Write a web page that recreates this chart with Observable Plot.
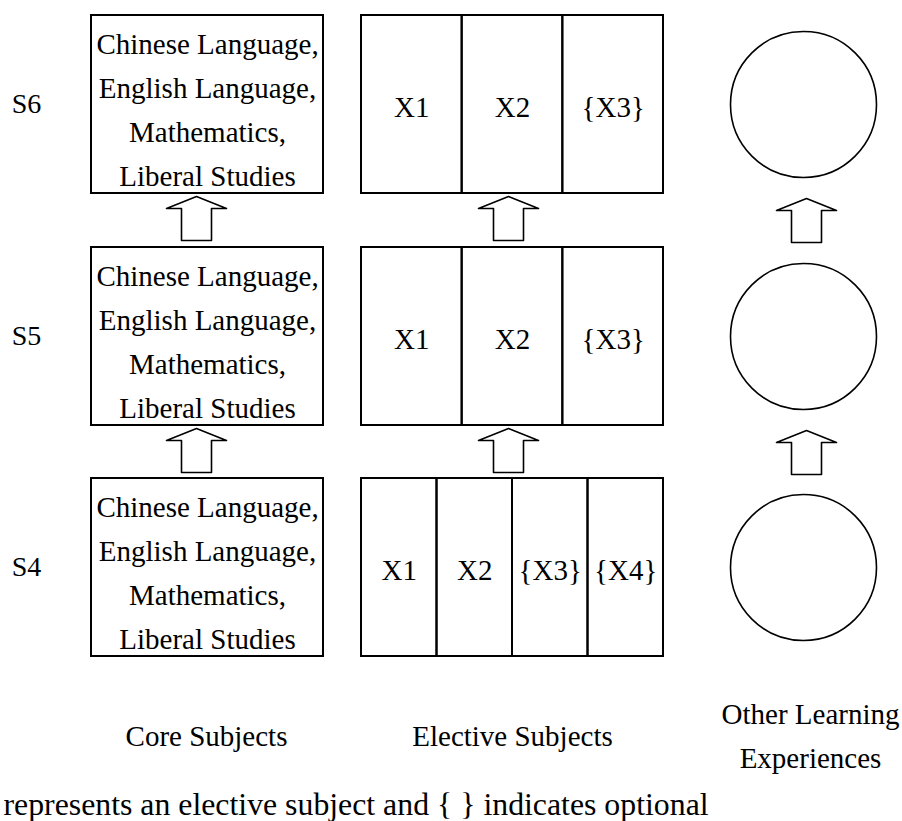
<!DOCTYPE html>
<html>
<head>
<meta charset="utf-8">
<script src="https://cdn.jsdelivr.net/npm/d3@7"></script>
<script src="https://cdn.jsdelivr.net/npm/@observablehq/plot@0.6"></script>
<style>
  html, body { margin: 0; padding: 0; background: #fff; }
  #chart svg { display: block; }
</style>
</head>
<body>
<div id="chart"></div>
<script>
// ---- Data ----
const grades = ["S6", "S5", "S4"];
const coreSubjects = ["Chinese Language,", "English Language,", "Mathematics,", "Liberal Studies"];
const electivesS6 = ["X1", "X2", "{X3}"];
const electivesS5 = ["X1", "X2", "{X3}"];
const electivesS4 = ["X1", "X2", "{X3}", "{X4}"];
const columnLabels = ["Core Subjects", "Elective Subjects", "Other Learning\nExperiences"];
const footnote = "represents an elective subject and { } indicates optional";

// ---- Layout ----
const W = 902, H = 821;
const rowTop = [15, 247, 478];
const rowH = 178;
const core = {x1: 91, x2: 323, arrowX: 196};
const elec = {x1: 361, x2: 663, arrowX: 508};
const ole = {cx: 803, r: 73, arrowX: 806};
const labelX = 26;
const colLabelY = 731;
const font = "Liberation Serif";

const electives = [electivesS6, electivesS5, electivesS4];

const coreBoxes = grades.map((g, i) => ({g, x1: core.x1, x2: core.x2, y1: rowTop[i], y2: rowTop[i] + rowH}));
const coreTexts = grades.map((g, i) => ({x: (core.x1 + core.x2) / 2, y: rowTop[i] + rowH / 2 + 1, text: coreSubjects.join("\n")}));

const elecCells = [];
const elecTexts = [];
electives.forEach((list, i) => {
  const w = (elec.x2 - elec.x1) / list.length;
  list.forEach((name, j) => {
    elecCells.push({x1: elec.x1 + j * w, x2: elec.x1 + (j + 1) * w, y1: rowTop[i], y2: rowTop[i] + rowH});
    elecTexts.push({x: elec.x1 + (j + 0.5) * w, y: rowTop[i] + rowH / 2 + 3, text: name});
  });
});

const circles = grades.map((g, i) => ({x: ole.cx, y: rowTop[i] + rowH / 2}));

// arrows between consecutive rows (pointing up)
const arrowPts = [];
[core.arrowX, elec.arrowX, ole.arrowX].forEach((cx, c) => {
  for (let i = 0; i < grades.length - 1; i++) {
    const t = rowTop[i] + rowH + 3 + (c === 2 ? 2 : 0);
    const id = c + "-" + i;
    const pts = [[cx, t], [cx + 30, t + 12], [cx + 15, t + 12], [cx + 15, t + 44],
                 [cx - 15, t + 44], [cx - 15, t + 12], [cx - 30, t + 12], [cx, t]];
    pts.forEach(([x, y]) => arrowPts.push({id, x, y}));
  }
});

const gradeLabels = grades.map((g, i) => ({x: labelX, y: rowTop[i] + rowH / 2, text: g}));
const colLabelData = columnLabels.map((t, i) => ({x: [(core.x1 + core.x2) / 2 - 1, (elec.x1 + elec.x2) / 2, ole.cx + 7][i], y: colLabelY, text: t}));

const chart = Plot.plot({
  width: W,
  height: H,
  margin: 0,
  x: {type: "linear", domain: [0, W], range: [0, W], axis: null},
  y: {type: "linear", domain: [0, H], range: [0, H], axis: null},
  marks: [
    Plot.rect(coreBoxes, {x1: "x1", x2: "x2", y1: "y1", y2: "y2", fill: "none", stroke: "#000", strokeWidth: 2}),
    Plot.text(coreTexts, {x: "x", y: "y", text: "text", fontSize: 29, lineHeight: 1.52, fill: "#000", fontFamily: font}),
    Plot.rect(elecCells, {x1: "x1", x2: "x2", y1: "y1", y2: "y2", fill: "none", stroke: "#000", strokeWidth: 2}),
    Plot.text(elecTexts, {x: "x", y: "y", text: "text", fontSize: 29, fill: "#000", fontFamily: font}),
    Plot.dot(circles, {x: "x", y: "y", r: ole.r, fill: "none", stroke: "#000", strokeWidth: 1.6}),
    Plot.line(arrowPts, {x: "x", y: "y", z: "id", stroke: "#000", strokeWidth: 1.6, curve: "linear"}),
    Plot.text(gradeLabels, {x: "x", y: "y", text: "text", fontSize: 28, fill: "#000", fontFamily: font}),
    Plot.text(colLabelData, {x: "x", y: "y", text: "text", fontSize: 29, lineHeight: 1.52, fill: "#000", fontFamily: font}),
    Plot.text([footnote], {x: () => 3, y: () => 804, text: d => d, textAnchor: "start", fontSize: 31.8, fill: "#000", fontFamily: font})
  ]
});
document.getElementById("chart").appendChild(chart);
</script>
</body>
</html>
